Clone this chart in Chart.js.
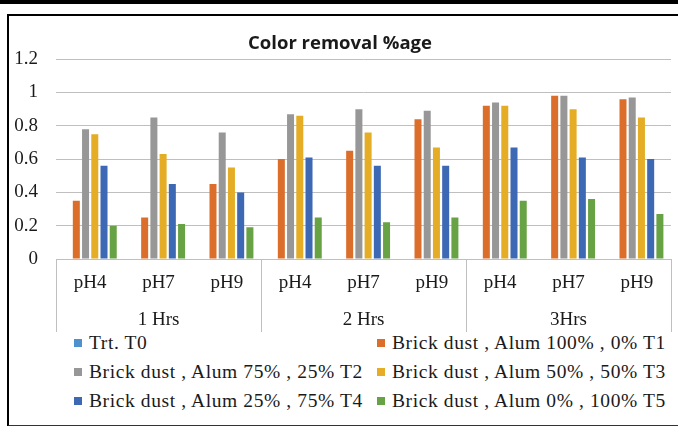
<!DOCTYPE html>
<html>
<head>
<meta charset="utf-8">
<script src="https://cdn.jsdelivr.net/npm/chart.js@4.4.1/dist/chart.umd.min.js"></script>
<style>
  html, body { margin: 0; padding: 0; background: #fff; overflow: hidden; }
  body { width: 678px; height: 426px; position: relative; }
  .top-band { position: absolute; left: 0; top: 0; width: 678px; height: 4px; background: #000; }
  .frame {
    position: absolute; left: 7px; top: 14px; width: 700px; height: 409px;
    border: 2px solid #000; border-bottom-color: #333;
  }
  .chart-box { position: absolute; left: 0; top: 0; width: 672px; height: 316px; }
  .legend { position: absolute; left: 0; top: 0; }
  .legend-item {
    position: absolute; display: flex; align-items: center; white-space: nowrap;
    font-family: "Liberation Serif", "Times New Roman", serif; font-size: 19.5px;
    letter-spacing: 0.6px; line-height: 20px; color: #1a1a1a;
  }
  .legend-swatch { width: 8px; height: 8px; margin-right: 7px; display: inline-block; }
</style>
</head>
<body>
<div class="top-band"></div>
<div class="frame">
  <div class="chart-box"><canvas id="colorChart"></canvas></div>
</div>
<div class="legend" id="legend"></div>

<script>
// categories
const hourGroups = ["1 Hrs", "2 Hrs", "3Hrs"];
const phLevels = ["pH4", "pH7", "pH9"];
const yTickLabels = ["0", "0.2", "0.4", "0.6", "0.8", "1", "1.2"];

// series values (pH4, pH7, pH9 for 1, 2 and 3 hours)
const trtT0 = [0, 0, 0, 0, 0, 0, 0, 0, 0];
const alum100 = [0.35, 0.25, 0.45, 0.60, 0.65, 0.84, 0.92, 0.98, 0.96];
const alum75 = [0.78, 0.85, 0.76, 0.87, 0.90, 0.89, 0.94, 0.98, 0.97];
const alum50 = [0.75, 0.63, 0.55, 0.86, 0.76, 0.67, 0.92, 0.90, 0.85];
const alum25 = [0.56, 0.45, 0.40, 0.61, 0.56, 0.56, 0.67, 0.61, 0.60];
const alum0 = [0.20, 0.21, 0.19, 0.25, 0.22, 0.25, 0.35, 0.36, 0.27];

const seriesNames = [
  "Trt. T0",
  "Brick dust , Alum 100% , 0% T1",
  "Brick dust , Alum 75% , 25% T2",
  "Brick dust , Alum 50% , 50% T3",
  "Brick dust , Alum 25% , 75% T4",
  "Brick dust , Alum 0% , 100% T5",
];
const seriesColors = ["#4F91CD", "#DC6E2B", "#979797", "#E4AD25", "#3C68B4", "#67A245"];
const seriesData = [trtT0, alum100, alum75, alum50, alum25, alum0];

const phLabels = hourGroups.flatMap(() => phLevels);
const serif = "'Liberation Serif', 'Times New Roman', serif";
const gridGray = "#BFBFBF";

// vertical separators of the grouped category box
const groupLines = {
  id: "groupLines",
  afterDraw(chart) {
    const x = chart.scales.x;
    const g = chart.scales.x2;
    const ctx = chart.ctx;
    ctx.save();
    ctx.strokeStyle = gridGray;
    ctx.lineWidth = 1;
    for (let k = 0; k <= hourGroups.length; k++) {
      const px = Math.round(g.getPixelForValue(k - 0.5)) + 0.5;
      ctx.beginPath();
      ctx.moveTo(px, x.top);
      ctx.lineTo(px, g.bottom);
      ctx.stroke();
    }
    ctx.restore();
  },
};

const chart = new Chart(document.getElementById("colorChart").getContext("2d"), {
  type: "bar",
  data: {
    labels: phLabels,
    datasets: seriesNames.map((name, i) => ({
      label: name,
      data: seriesData[i],
      backgroundColor: seriesColors[i],
      borderWidth: 0,
      categoryPercentage: 0.81,
      barPercentage: 0.76,
      xAxisID: "x",
    })),
  },
  options: {
    responsive: true,
    maintainAspectRatio: false,
    animation: false,
    layout: { padding: { left: 0, right: 10, top: 0, bottom: 0 } },
    plugins: {
      legend: { display: false },
      tooltip: { enabled: false },
      title: {
        display: true,
        text: "Color removal %age",
        color: "#1a1a1a",
        font: { family: "'Open Sans', 'Liberation Sans', sans-serif", size: 18.5, weight: "bold" },
        padding: { top: 17, bottom: 4 },
      },
    },
    scales: {
      y: {
        min: 0,
        max: 1.2,
        ticks: {
          stepSize: 0.2,
          padding: 18,
          color: "#1a1a1a",
          font: { family: serif, size: 19 },
          callback: (value, index) => yTickLabels[index],
        },
        grid: { color: gridGray, drawTicks: false },
        border: { display: false },
        afterFit: (scale) => { scale.width = 47; },
      },
      x: {
        type: "category",
        position: "bottom",
        offset: true,
        grid: { display: false, drawTicks: false },
        border: { display: true, color: gridGray },
        ticks: {
          padding: 13,
          color: "#1a1a1a",
          autoSkip: false,
          maxRotation: 0,
          font: { family: serif, size: 19 },
        },
        afterFit: (scale) => { scale.height = 37; },
      },
      x2: {
        type: "category",
        position: "bottom",
        labels: hourGroups,
        offset: true,
        grid: { display: false, drawTicks: false },
        border: { display: false },
        ticks: {
          padding: 13,
          color: "#1a1a1a",
          maxRotation: 0,
          font: { family: serif, size: 19 },
        },
        afterFit: (scale) => { scale.height = 36; },
      },
    },
  },
  plugins: [groupLines],
});

// two-column legend built from the chart's datasets
const legendEl = document.getElementById("legend");
const colLeft = [74, 377];
const rowTop = [333, 362, 391];
chart.data.datasets.forEach((ds, i) => {
  const item = document.createElement("div");
  item.className = "legend-item";
  item.style.left = colLeft[i % 2] + "px";
  item.style.top = rowTop[Math.floor(i / 2)] + "px";
  const sw = document.createElement("span");
  sw.className = "legend-swatch";
  sw.style.background = ds.backgroundColor;
  const txt = document.createElement("span");
  txt.textContent = ds.label;
  item.appendChild(sw);
  item.appendChild(txt);
  legendEl.appendChild(item);
});
</script>
</body>
</html>
